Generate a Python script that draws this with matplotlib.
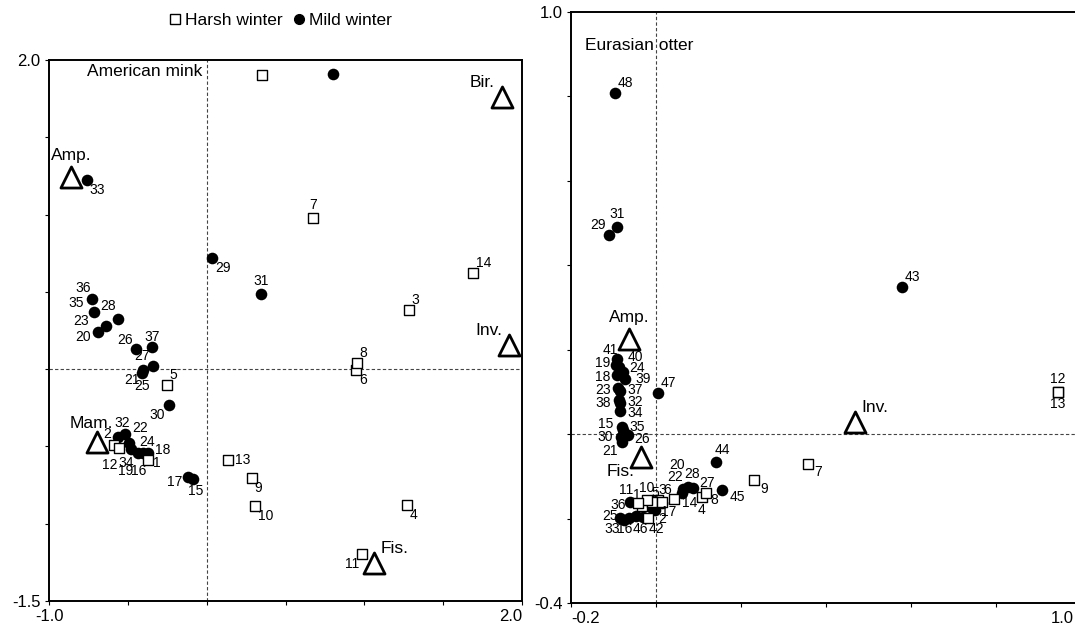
import matplotlib
matplotlib.use("Agg")
import numpy as np
import matplotlib.pyplot as plt
from matplotlib.lines import Line2D

plt.rcParams['font.family'] = ['Liberation Sans', 'DejaVu Sans']

# ---------------- American mink (left panel) ----------------
mink_sq_ids = ['1', '2', '3', '4', '5', '6', '7', '8', '9', '10', '11', '12', '13', '14', '']
mink_sq_x = [-0.372, -0.588, 1.283, 1.270, -0.252, 0.947, 0.674, 0.953, 0.287, 0.306, 0.985, -0.556, 0.135, 1.689, 0.351]
mink_sq_y = [-0.587, -0.490, 0.383, -0.878, -0.102, -0.005, 0.978, 0.040, -0.704, -0.885, -1.195, -0.510, -0.587, 0.622, 1.903]

mink_ci_ids = ['15', '16', '17', '18', '19', '20', '21', '22', '23', '24', '25', '26', '27', '28',
               '29', '30', '31', '32', '33', '34', '35', '36', '37', '']
mink_ci_x = [-0.087, -0.404, -0.119, -0.372, -0.436, -0.689, -0.404, -0.518, -0.639, -0.493, -0.410, -0.448,
             -0.341, -0.562, 0.034, -0.239, 0.344, -0.562, -0.759, -0.480, -0.715, -0.727, -0.347, 0.801]
mink_ci_y = [-0.710, -0.542, -0.697, -0.542, -0.542, 0.241, -0.005, -0.419, 0.279, -0.477, -0.025, 0.131,
             0.021, 0.325, 0.719, -0.232, 0.486, -0.439, 1.224, -0.516, 0.370, 0.454, 0.144, 1.909]

mink_sp_names = ['Amp.', 'Bir.', 'Inv.', 'Fis.', 'Mam.']
mink_sp_x = [-0.860, 1.873, 1.917, 1.061, -0.696]
mink_sp_y = [1.243, 1.761, 0.157, -1.254, -0.471]

# ---------------- Eurasian otter (right panel) ----------------
otter_sq_ids = ['1', '2', '3', '4', '5', '6', '7', '8', '9', '10', '11', '12', '13', '14']
otter_sq_x = [-0.033, -0.019, 0.005, 0.108, -0.009, 0.014, 0.358, 0.118, 0.231, -0.021, -0.042, 0.946, 0.946, 0.042]
otter_sq_y = [-0.171, -0.199, -0.156, -0.149, -0.161, -0.161, -0.071, -0.140, -0.109, -0.156, -0.163, 0.100, 0.100, -0.154]

otter_ci_ids = ['15', '16', '17', '18', '19', '20', '21', '22', '23', '24', '25', '26', '27', '28', '29',
                '30', '31', '32', '33', '34', '35', '36', '37', '38', '39', '40', '41', '42', '43', '44',
                '45', '46', '47', '48', '', '']
otter_ci_x = [-0.080, -0.064, 0.014, -0.092, -0.094, 0.061, -0.080, 0.064, -0.089, -0.078, -0.085, -0.066,
              0.087, 0.075, -0.111, -0.082, -0.092, -0.085, -0.075, -0.085, -0.078, -0.061, -0.085, -0.087,
              -0.073, -0.087, -0.092, -0.031, 0.579, 0.141, 0.155, -0.047, 0.005, -0.096, -0.009, -0.002]
otter_ci_y = [0.017, -0.199, -0.163, 0.140, 0.164, -0.140, -0.019, -0.130, 0.109, 0.147, -0.199, -0.002,
              -0.128, -0.126, 0.472, -0.007, 0.491, 0.073, -0.204, 0.055, 0.009, -0.161, 0.102, 0.081,
              0.130, 0.159, 0.178, -0.197, 0.348, -0.066, -0.133, -0.194, 0.097, 0.808, -0.175, -0.180]

otter_sp_names = ['Amp.', 'Fis.', 'Inv.']
otter_sp_x = [-0.064, -0.035, 0.468]
otter_sp_y = [0.225, -0.054, 0.028]

# ---------------- label placement (style only) ----------------
# code -> (dx, dy, ha, va) in points; a 2-tuple means a centred label at that offset
OFF = {'ur': (2, 2, 'left', 'bottom'), 'ul': (-2, 2, 'right', 'bottom'),
       'lr': (2, -2, 'left', 'top'), 'll': (-2, -2, 'right', 'top'),
       'u': (0, 4, 'center', 'bottom'), 'd': (0, -4, 'center', 'top'),
       'l': (-5, 0, 'right', 'center'), 'r': (5, 0, 'left', 'center')}

mink_sq_where = [(6.5, -2), (-5, 8), 'ur', 'lr', 'ur', 'lr', 'u', 'ur', 'lr', 'lr', 'll', (-6.5, -12),
                 'r', 'ur', 'u']
mink_ci_where = [(2, -8.6), (-3, -13), (-9.4, -3.6), (10.8, 2), (-9, -13), (-11, -3.6), 'll', (10.8, 4.3),
                 (-18, 3.6), (13, 0.7), 'd', (-8, 6.5), 'ul', (-7, 9.4), 'lr', (-8.6, -7), 'u', (3, 10),
                 'lr', (-3.6, -10), (-13, 6.5), (-6.5, 8), (0, 7), 'u']
mink_sp_where = ['u', 'ul', 'ul', 'ur', (-4, 8, 'center', 'bottom')]

otter_sq_where = [(-3.6, 8), (10, -0.7), (3.2, 7), (0, -9.4), (2.2, 6.5), (3.6, 8.6), (7, -5.8),
                  (5.8, -5), (7, -6.5), (0, 8.6), (-9, 9), 'u', 'd', (11.5, -3)]
otter_ci_where = [(-11.5, 2.2), (-3, -8), (5, -6.5), (-10, -1.4), (-10, 1.4), (-3.6, 20), (-8.6, -6.5),
                  (-5.8, 8.6), (-10.8, -1.4), (10, 2.9), (-7, 1.4), (10, -2.9), (10, 4), (3, 9.4), 'ul',
                  (-11.5, 0), 'u', (10.8, 0.7), (-8.6, -6.5), (10.8, -1.4), (10, 2.2), (-8.6, -2),
                  (10.8, 0.7), (-11.5, -2.2), (13, 0), (11.5, 7.2), (-5, 6.5),
                  (10, -8.6), 'ur', (5, 8.6), (10.8, -5), (3, -9.4), 'ur', 'ur', 'u', 'u']
otter_sp_where = ['u', 'll', 'ur']


def unpack(where):
    if isinstance(where, str):
        return OFF[where]
    if len(where) == 2:
        return where[0], where[1], 'center', 'center'
    return where


def put_label(ax, x, y, text, where, size):
    if not text:
        return
    dx, dy, ha, va = unpack(where)
    ax.annotate(text, (x, y), xytext=(dx, dy), textcoords='offset points',
                ha=ha, va=va, fontsize=size, zorder=6)


def draw_panel(ax, sq, ci, sp, xlim, ylim, step_x, step_y, title, title_xy):
    ax.set_xlim(*xlim)
    ax.set_ylim(*ylim)
    ax.axhline(0, color='#444444', lw=0.8, ls=(0, (3, 2)), zorder=1)
    ax.axvline(0, color='#444444', lw=0.8, ls=(0, (3, 2)), zorder=1)

    ids, xs, ys, wh = ci
    ax.scatter(xs, ys, s=70, marker='o', color='black', zorder=3, linewidths=0)
    for t, x, y, w in zip(ids, xs, ys, wh):
        put_label(ax, x, y, t, w, 10)

    ids, xs, ys, wh = sq
    ax.scatter(xs, ys, s=50, marker='s', facecolor='white', edgecolor='black', linewidths=1.0, zorder=4)
    for t, x, y, w in zip(ids, xs, ys, wh):
        put_label(ax, x, y, t, w, 10)

    names, xs, ys, wh = sp
    ax.scatter(xs, ys, s=230, marker='^', facecolor='white', edgecolor='black', linewidths=2.0, zorder=5)
    for t, x, y, w in zip(names, xs, ys, wh):
        dx, dy, ha, va = unpack(w)
        if isinstance(w, str):
            dx, dy = dx * 2.5, dy * 2.5
        ax.annotate(t, (x, y), xytext=(dx, dy), textcoords='offset points',
                    ha=ha, va=va, fontsize=12.5, zorder=6)

    xt = np.arange(xlim[0], xlim[1] + step_x / 2, step_x)
    yt = np.arange(ylim[0], ylim[1] + step_y / 2, step_y)
    ax.set_xticks(xt)
    ax.set_yticks(yt)
    ax.set_xticklabels([f'{v:.1f}' if i in (0, len(xt) - 1) else '' for i, v in enumerate(xt)], fontsize=12)
    ax.set_yticklabels([f'{v:.1f}' if i in (0, len(yt) - 1) else '' for i, v in enumerate(yt)], fontsize=12)
    ax.tick_params(direction='out', length=3, width=0.8, pad=3)
    for s in ax.spines.values():
        s.set_linewidth(1.4)
    ax.text(title_xy[0], title_xy[1], title, transform=ax.transAxes, fontsize=12.5,
            ha='left', va='center', zorder=6)


fig = plt.figure(figsize=(10.75, 6.25), dpi=100)
axL = fig.add_axes([49 / 1075, 24 / 625, 473 / 1075, 541 / 625])
axR = fig.add_axes([571 / 1075, 22 / 625, 510 / 1075, 591 / 625])

draw_panel(axL,
           (mink_sq_ids, mink_sq_x, mink_sq_y, mink_sq_where),
           (mink_ci_ids, mink_ci_x, mink_ci_y, mink_ci_where),
           (mink_sp_names, mink_sp_x, mink_sp_y, mink_sp_where),
           (-1.0, 2.0), (-1.5, 2.0), 0.5, 0.5, 'American mink', (0.08, 0.978))
draw_panel(axR,
           (otter_sq_ids, otter_sq_x, otter_sq_y, otter_sq_where),
           (otter_ci_ids, otter_ci_x, otter_ci_y, otter_ci_where),
           (otter_sp_names, otter_sp_x, otter_sp_y, otter_sp_where),
           (-0.2, 1.0), (-0.4, 1.0), 0.2, 0.2, 'Eurasian otter', (0.027, 0.944))

# end tick labels pulled inside like the original
axL.get_xticklabels()[-1].set_ha('right')
# the right panel runs past the picture edge, so its last label is placed by hand
xt_r = axR.get_xticks()
axR.set_xticklabels([f'{v:.1f}' if i == 0 else '' for i, v in enumerate(xt_r)], fontsize=12)
axR.get_xticklabels()[0].set_ha('left')
axR.text(0.986, -0.014, f'{xt_r[-1]:.1f}', transform=axR.transAxes, ha='right', va='top', fontsize=12)

handles = [Line2D([], [], marker='s', ls='', mfc='white', mec='black', mew=1.0, ms=7),
           Line2D([], [], marker='o', ls='', mfc='black', mec='black', ms=7)]
fig.legend(handles, ['Harsh winter', 'Mild winter'], loc='center',
           bbox_to_anchor=(280 / 1075, 1 - 20 / 625), ncol=2, frameon=False,
           handletextpad=0.2, columnspacing=0.5, handlelength=0.8, fontsize=12.5)

fig.savefig('out.png', dpi=100)
